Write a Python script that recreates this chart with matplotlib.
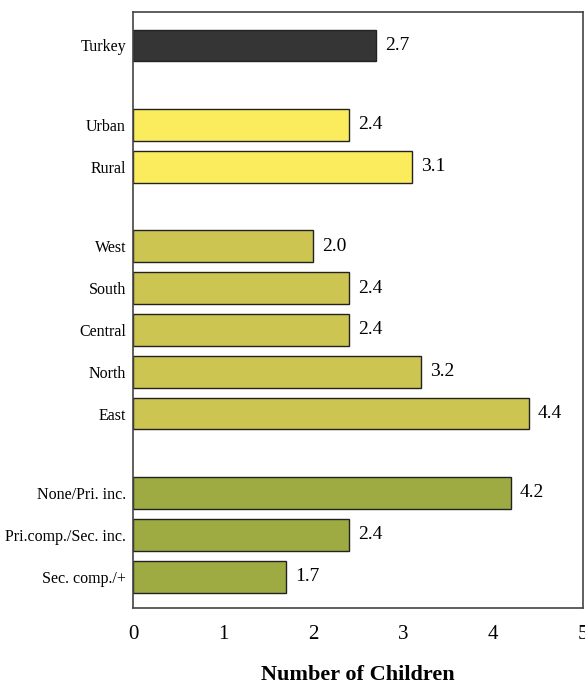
import matplotlib.pyplot as plt

# data
categories = ["Turkey", "Urban", "Rural", "West", "South", "Central", "North",
              "East", "None/Pri. inc.", "Pri.comp./Sec. inc.", "Sec. comp./+"]
values = [2.7, 2.4, 3.1, 2.0, 2.4, 2.4, 3.2, 4.4, 4.2, 2.4, 1.7]
groups = ["total", "residence", "residence", "region", "region", "region",
          "region", "region", "education", "education", "education"]

group_colors = {"total": "#353535", "residence": "#fbec5e",
                "region": "#cdc552", "education": "#9dab42"}

# slot positions, with a wider gap between groups
ypos = []
y = 0.0
prev = None
for g in groups:
    if prev is not None:
        y += 1.0 if g == prev else 1.9
    ypos.append(y)
    prev = g

plt.rcParams['font.family'] = ['Liberation Serif', 'DejaVu Serif']

fig = plt.figure(figsize=(5.85, 6.85), dpi=100)
ax = fig.add_axes([0.2274, 0.1124, 0.769, 0.8701])

ax.barh(ypos, values, height=0.76,
        color=[group_colors[g] for g in groups],
        edgecolor="#222222", linewidth=1.0)

for yy, v in zip(ypos, values):
    ax.text(v + 0.1, yy, f"{v:.1f}", va="center", ha="left", fontsize=14)

ax.set_xlim(0, 5)
ax.set_ylim(ypos[-1] + 0.75, -0.8)
ax.set_yticks(ypos)
ax.set_yticklabels(categories, fontsize=11.5)
ax.set_xticks(range(6))
ax.tick_params(axis="both", length=0)
ax.tick_params(axis="x", pad=12, labelsize=15)
ax.tick_params(axis="y", pad=5)

for s in ax.spines.values():
    s.set_color("#444444")
    s.set_linewidth(1.2)

ax.set_xlabel("Number of Children", fontsize=16, fontweight="bold", labelpad=15)

fig.savefig("out.png", dpi=100)
